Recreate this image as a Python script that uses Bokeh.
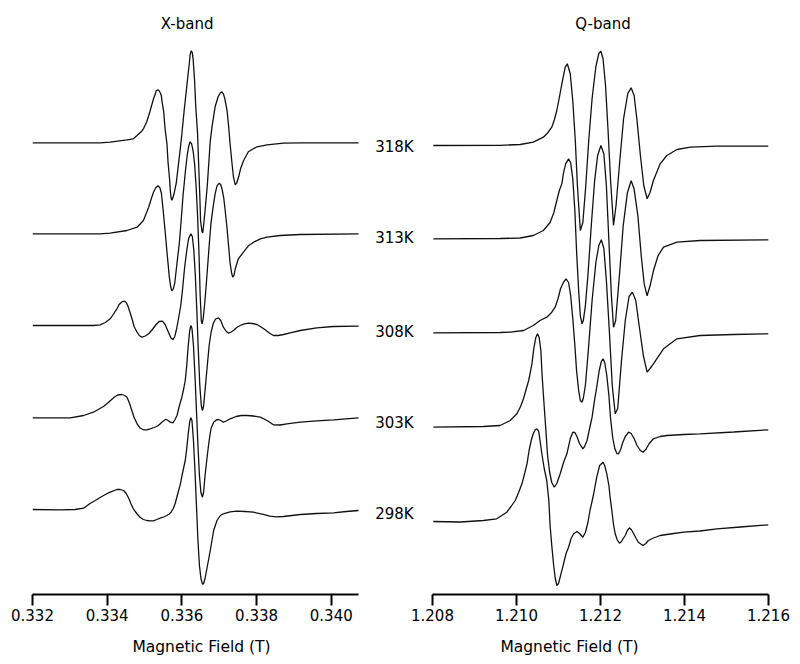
from bokeh.plotting import figure
from bokeh.models import Range1d, FixedTicker, Label, NumeralTickFormatter
from bokeh.layouts import row
from bokeh.embed import file_html
from bokeh.resources import INLINE

# ---------------- data ----------------
temps = ["318K", "313K", "308K", "303K", "298K"]

xb_ticks = [0.332, 0.334, 0.336, 0.338, 0.340]
qb_ticks = [1.208, 1.210, 1.212, 1.214, 1.216]

# vertical stacking offsets of each spectrum (arbitrary units)
xb_offsets = [451.7, 360.7, 269, 176.7, 85]
qb_offsets = [449, 355.7, 261.7, 167.3, 73]
label_levels = [448, 357, 263, 172, 81]

# X-band spectra: field (T) and derivative intensity (a.u.)
xb_318_B = [0.33200,0.33381,0.33408,0.33453,0.33470,0.33480,0.33491,0.33497,0.33506,0.33511,
            0.33515,0.33524,0.33529,0.33531,0.33536,0.33539,0.33542,0.33545,0.33547,0.33551,
            0.33555,0.33560,0.33563,0.33567,0.33569,0.33571,0.33573,0.33575,0.33579,0.33585,
            0.33590,0.33596,0.33600,0.33606,0.33613,0.33617,0.33620,0.33622,0.33625,0.33628,
            0.33630,0.33634,0.33637,0.33642,0.33645,0.33648,0.33650,0.33654,0.33656,0.33658,
            0.33662,0.33668,0.33676,0.33681,0.33689,0.33697,0.33703,0.33707,0.33711,0.33715,
            0.33721,0.33725,0.33729,0.33734,0.33738,0.33743,0.33747,0.33752,0.33757,0.33765,
            0.33778,0.33801,0.33828,0.33872,0.33917,0.34073]
xb_318_I = [0,0,0.6,3,4,7.3,11,14,21,27,
            32,44,49,52,53,52,50,47,41,32,
            14,-1,-20,-36,-48,-55,-57.5,-56,-51,-40,
            -24,-5,9,32,56,70,80,88,92,90,
            84,62,37,9,-23,-53,-78,-89,-90,-83,
            -68,-43,2,17,36,46,50,51,49,44,
            32,17,-1,-20,-34,-42,-40,-34,-26,-18,
            -9,-4,-2,-0.4,0,0]

xb_313_B = [0.33200,0.33381,0.33408,0.33453,0.33480,0.33497,0.33511,0.33518,0.33524,0.33530,
            0.33536,0.33541,0.33545,0.33550,0.33555,0.33561,0.33566,0.33570,0.33573,0.33577,
            0.33581,0.33587,0.33593,0.33598,0.33603,0.33609,0.33614,0.33618,0.33622,0.33626,
            0.33630,0.33634,0.33638,0.33642,0.33646,0.33649,0.33652,0.33654,0.33657,0.33661,
            0.33665,0.33673,0.33678,0.33684,0.33689,0.33694,0.33700,0.33704,0.33708,0.33712,
            0.33716,0.33721,0.33725,0.33729,0.33733,0.33736,0.33739,0.33743,0.33751,0.33765,
            0.33778,0.33792,0.33810,0.33828,0.33863,0.33917,0.34073]
xb_313_I = [0,0,0.6,3.3,6.6,13.3,26.6,35,41.6,46,
            48,46,41,23,3,-22,-42,-53,-57,-55,
            -49,-29,-10,13,38,61,78,87,92,90,
            83,70,48,18,-22,-62,-87,-90,-85,-70,
            -52,-12,11,28,40,48,50.6,49,44,36,
            23,5,-12,-29,-39,-43.4,-42,-35,-25,-18.4,
            -12,-8.4,-5,-3.4,-1.7,-0.7,0]

xb_308_B = [0.33200,0.33363,0.33381,0.33395,0.33408,0.33417,0.33426,0.33432,0.33439,0.33446,
            0.33451,0.33456,0.33462,0.33467,0.33472,0.33480,0.33486,0.33493,0.33502,0.33511,
            0.33521,0.33531,0.33539,0.33548,0.33555,0.33564,0.33570,0.33576,0.33581,0.33586,
            0.33591,0.33597,0.33602,0.33607,0.33613,0.33618,0.33624,0.33628,0.33632,0.33636,
            0.33640,0.33644,0.33648,0.33652,0.33655,0.33658,0.33662,0.33668,0.33673,0.33678,
            0.33684,0.33690,0.33698,0.33704,0.33711,0.33719,0.33725,0.33732,0.33738,0.33747,
            0.33756,0.33767,0.33778,0.33789,0.33801,0.33812,0.33823,0.33834,0.33845,0.33858,
            0.33872,0.33890,0.33917,0.33961,0.34006,0.34073]
xb_308_I = [0,0,0.7,3,6.7,11.5,16.7,21,23.5,24.3,
            23,19,12,6,-1,-6.7,-10,-11.7,-10.5,-8.3,
            -4,1,4,4.3,1,-6.7,-12,-14.3,-11,-3,
            7,20,37,57,75,87,91.7,89,75,50,
            15,-25,-60,-80,-85,-81,-65,-40,-20,-7,
            2,6.5,7.7,5,-1.7,-6,-7.7,-6.5,-5,-2,
            0,1.7,2.3,2,1,-1.5,-4.3,-7.5,-10,-10,
            -9,-7.3,-5,-2.3,-1,-0.7]

xb_303_B = [0.33200,0.33301,0.33337,0.33363,0.33390,0.33403,0.33417,0.33428,0.33439,0.33447,
            0.33453,0.33459,0.33466,0.33472,0.33480,0.33488,0.33497,0.33506,0.33515,0.33526,
            0.33537,0.33547,0.33557,0.33563,0.33569,0.33576,0.33581,0.33587,0.33592,0.33600,
            0.33605,0.33609,0.33613,0.33617,0.33621,0.33624,0.33627,0.33631,0.33635,0.33639,
            0.33643,0.33647,0.33651,0.33655,0.33658,0.33662,0.33668,0.33673,0.33678,0.33685,
            0.33692,0.33698,0.33704,0.33711,0.33719,0.33729,0.33745,0.33759,0.33774,0.33791,
            0.33810,0.33828,0.33845,0.33863,0.33881,0.33917,0.33961,0.34006,0.34073]
xb_303_I = [0,0,2.3,5.6,11.3,15.3,20,22.8,23.3,22.3,
            20.6,15.3,7.3,0.3,-6,-10.2,-12,-12,-11,-9.7,
            -7.7,-4.2,-1.4,-2.7,-4.4,-5,-2.2,2.3,10.3,20.6,
            29.3,37.3,52.3,72.3,87.3,92.3,89.3,72.3,42.3,7.3,
            -27.7,-57.7,-74.7,-79.4,-74.7,-57.7,-37.7,-22.7,-10.7,-4.4,
            -2.2,-1.7,-2.7,-4.4,-3.2,-1,1.3,2.3,2.3,1.8,
            0.6,-2.7,-7,-7.2,-6,-4.4,-3,-2,0]

xb_298_B = [0.33200,0.33274,0.33314,0.33337,0.33354,0.33368,0.33381,0.33395,0.33408,0.33426,
            0.33435,0.33444,0.33451,0.33458,0.33464,0.33470,0.33480,0.33488,0.33497,0.33506,
            0.33515,0.33524,0.33533,0.33542,0.33551,0.33560,0.33566,0.33571,0.33577,0.33582,
            0.33587,0.33596,0.33602,0.33609,0.33613,0.33617,0.33621,0.33624,0.33627,0.33631,
            0.33635,0.33639,0.33643,0.33647,0.33651,0.33655,0.33658,0.33662,0.33668,0.33676,
            0.33685,0.33694,0.33703,0.33711,0.33729,0.33747,0.33769,0.33792,0.33815,0.33836,
            0.33852,0.33872,0.33917,0.33961,0.34006,0.34040,0.34073]
xb_298_I = [0,-0.3,0,1.3,6,9,12,15,17.3,20,
            20,19,16,11,5.5,0.7,-4.5,-7.7,-10,-11,
            -11.3,-11.3,-10,-8.7,-7.5,-6,-4.5,-2.7,1,6,
            13,25.7,37,49,61,76,88,91.7,89,69,
            39,4,-31,-56,-69,-74.5,-74.3,-69,-57,-41,
            -21,-11,-6,-4.3,-2.3,-1.7,-2,-2.7,-4.7,-6.7,
            -7.3,-7,-5,-4,-3.3,-2,-1]

# Q-band spectra
qb_318_B = [1.20802,1.20961,1.21009,1.21040,1.21064,1.21074,1.21084,1.21090,1.21096,1.21102,
            1.21108,1.21116,1.21121,1.21128,1.21134,1.21140,1.21145,1.21152,1.21158,1.21165,
            1.21172,1.21180,1.21189,1.21196,1.21201,1.21206,1.21212,1.21218,1.21224,1.21231,
            1.21237,1.21246,1.21255,1.21265,1.21273,1.21280,1.21287,1.21295,1.21303,1.21311,
            1.21318,1.21326,1.21342,1.21358,1.21382,1.21414,1.21477,1.21600]
qb_318_I = [0,0.2,1,3.3,8.3,12.5,18.3,25.5,35,48,
            61.7,78.3,81.7,71.7,45,5,-40,-85,-77,-40,
            5,47,79,92,94.3,87,60,15,-35,-80,
            -60,-15,27,52,57.7,50,25,-10,-40,-53.3,
            -47,-35,-18.3,-10,-4,-1.7,-0.7,-0.7]

qb_313_B = [1.20802,1.20961,1.21009,1.21040,1.21064,1.21080,1.21089,1.21096,1.21102,1.21108,
            1.21112,1.21117,1.21124,1.21129,1.21134,1.21139,1.21143,1.21148,1.21152,1.21156,
            1.21159,1.21164,1.21170,1.21178,1.21186,1.21193,1.21201,1.21208,1.21214,1.21220,
            1.21226,1.21231,1.21236,1.21246,1.21254,1.21264,1.21273,1.21280,1.21289,1.21297,
            1.21304,1.21311,1.21318,1.21326,1.21337,1.21350,1.21382,1.21437,1.21600]
qb_313_I = [0,0.3,0.8,3.3,8.3,16.3,26.3,38.3,48.3,55,
            66,75,80,76,60,28,-12,-52,-77,-85,
            -82,-67,-37,13,58,83,93.3,85,53,-2,
            -57,-88.4,-82,-32,13,46,58,50,23,-17,
            -45,-57,-47,-32,-17,-8.4,-3.4,-1.7,-1]

qb_308_B = [1.20802,1.20961,1.20985,1.21017,1.21040,1.21056,1.21072,1.21084,1.21092,1.21099,
            1.21105,1.21112,1.21118,1.21124,1.21129,1.21134,1.21139,1.21143,1.21148,1.21152,
            1.21156,1.21159,1.21164,1.21171,1.21180,1.21189,1.21196,1.21202,1.21208,1.21214,
            1.21221,1.21228,1.21235,1.21241,1.21250,1.21259,1.21268,1.21276,1.21284,1.21292,
            1.21302,1.21311,1.21318,1.21326,1.21350,1.21382,1.21437,1.21517,1.21600]
qb_308_I = [0,0.3,0.6,2.3,7.3,12.3,15.6,20.6,25.6,34.3,
            44.3,50.6,54,50.3,37.3,14.3,-12.7,-37.7,-57.7,-67.7,
            -69.4,-65.7,-52.7,-17.7,32.3,70.3,87.3,93,84.3,52.3,
            2.3,-52.7,-81,-75.7,-27.7,12.3,36.3,40.6,32.3,7.3,
            -22.7,-39.4,-35.7,-31,-16,-6,-2.7,-1.7,-1]

qb_303_B = [1.20802,1.20921,1.20961,1.20985,1.21001,1.21010,1.21017,1.21023,1.21029,1.21033,
            1.21037,1.21041,1.21046,1.21050,1.21054,1.21058,1.21061,1.21065,1.21070,1.21074,
            1.21079,1.21084,1.21090,1.21096,1.21104,1.21112,1.21120,1.21128,1.21134,1.21139,
            1.21144,1.21150,1.21158,1.21162,1.21168,1.21173,1.21180,1.21185,1.21191,1.21197,
            1.21202,1.21206,1.21210,1.21215,1.21220,1.21224,1.21229,1.21234,1.21239,1.21243,
            1.21248,1.21253,1.21259,1.21267,1.21273,1.21280,1.21287,1.21295,1.21301,1.21308,
            1.21316,1.21326,1.21342,1.21358,1.21398,1.21437,1.21517,1.21600]
qb_303_I = [0,0.7,1.7,6.7,13.4,21,29,38,46.7,55,
            64,78,89.7,93.4,89.7,76.7,51.7,26.7,-3.3,-28.3,
            -45.3,-55.3,-60,-56.3,-46.6,-35.3,-26.6,-11.6,-5,-5.3,
            -9.3,-16.3,-21.6,-19.3,-13.3,-3.3,10,24.7,40,56.7,
            65.7,68.4,64.7,51.7,31.7,8.7,-10.3,-21.3,-26.3,-26.6,
            -22.3,-15.3,-9.3,-5,-6.3,-11.3,-18.3,-23.3,-25,-22.3,
            -16.3,-11.6,-9.3,-8.3,-7.3,-6.6,-4.8,-2.6]

qb_298_B = [1.20802,1.20866,1.20921,1.20953,1.20977,1.20987,1.20997,1.21005,1.21013,1.21020,
            1.21025,1.21030,1.21035,1.21040,1.21045,1.21049,1.21053,1.21056,1.21061,1.21066,
            1.21072,1.21077,1.21080,1.21084,1.21088,1.21092,1.21096,1.21100,1.21105,1.21112,
            1.21118,1.21124,1.21130,1.21136,1.21144,1.21150,1.21158,1.21164,1.21170,1.21175,
            1.21183,1.21191,1.21198,1.21206,1.21210,1.21215,1.21220,1.21223,1.21227,1.21231,
            1.21235,1.21240,1.21245,1.21250,1.21254,1.21259,1.21264,1.21269,1.21274,1.21279,
            1.21285,1.21290,1.21301,1.21308,1.21314,1.21326,1.21342,1.21366,1.21398,1.21437,
            1.21477,1.21533,1.21600]
qb_298_I = [0,-0.5,1,2.7,9.3,15,21,29,37.7,49,
            57.7,71,81,88,92,92.7,90,81,66,53,
            41,21,-4,-24,-42,-56,-64,-62,-54,-42.3,
            -32,-25.7,-17,-12.3,-10,-12,-15.7,-11,-1,11,
            26,44.3,56,59.3,56,47.7,36,24,11,-3,
            -12.3,-18.5,-21.7,-20,-17,-14,-9,-6.3,-8.5,-12.3,
            -17,-20.7,-24,-22,-19,-16.5,-14,-12.5,-10.7,-9.5,
            -7.3,-5.5,-3.3]

xb_fields = [xb_318_B, xb_313_B, xb_308_B, xb_303_B, xb_298_B]
xb_ints = [xb_318_I, xb_313_I, xb_308_I, xb_303_I, xb_298_I]
qb_fields = [qb_318_B, qb_313_B, qb_308_B, qb_303_B, qb_298_B]
qb_ints = [qb_318_I, qb_313_I, qb_308_I, qb_303_I, qb_298_I]

# ---------------- styling ----------------
FONT = "DejaVu Sans"
H = 658
LINE = "#111111"
LW = 1.3


def style(p, ticks, bounds):
    p.outline_line_color = None
    p.xgrid.visible = False
    p.ygrid.visible = False
    ax = p.xaxis[0]
    ax.ticker = FixedTicker(ticks=ticks)
    ax.formatter = NumeralTickFormatter(format="0.000")
    ax.bounds = bounds
    ax.axis_line_width = 2
    ax.axis_line_color = "black"
    ax.major_tick_line_width = 2
    ax.major_tick_line_color = "black"
    ax.major_tick_out = 11
    ax.major_tick_in = 0
    ax.minor_tick_line_color = None
    ax.major_label_text_font = FONT
    ax.major_label_text_font_size = "15px"
    ax.major_label_text_color = "black"
    ax.major_label_standoff = 3
    ax.axis_label = "Magnetic Field (T)"
    ax.axis_label_text_font = FONT
    ax.axis_label_text_font_size = "15.5px"
    ax.axis_label_text_font_style = "normal"
    ax.axis_label_text_color = "black"
    ax.axis_label_standoff = 14


# left panel: frame spans page x 32..370
p1 = figure(width=370, height=H, x_range=Range1d(0.332, 0.341050), y_range=Range1d(0, 586),
            output_backend="svg", toolbar_location=None, y_axis_location=None,
            min_border_left=32, min_border_right=0, min_border_top=8, min_border_bottom=64)
style(p1, xb_ticks, (xb_ticks[0], 0.34073))
for B, I, off in zip(xb_fields, xb_ints, xb_offsets):
    p1.line(B, [v + off for v in I], line_color=LINE, line_width=LW)
p1.add_layout(Label(x=0.33614, y=571, text="X-band", text_font=FONT, text_font_size="15px",
                    text_align="center", text_baseline="middle", text_color="black"))

# right panel: frame spans page x 370..768, field axis starts at 1.208
p2 = figure(width=420, height=H, x_range=Range1d(1.206524, qb_ticks[-1]), y_range=Range1d(0, 586),
            output_backend="svg", toolbar_location=None, y_axis_location=None,
            min_border_left=0, min_border_right=22, min_border_top=8, min_border_bottom=64)
style(p2, qb_ticks, (qb_ticks[0], qb_ticks[-1]))
for B, I, off in zip(qb_fields, qb_ints, qb_offsets):
    p2.line(B, [v + off for v in I], line_color=LINE, line_width=LW)
p2.add_layout(Label(x=1.21206, y=571, text="Q-band", text_font=FONT, text_font_size="15px",
                    text_align="center", text_baseline="middle", text_color="black"))
for t, yl in zip(temps, label_levels):
    p2.add_layout(Label(x=1.206636, y=yl, text=t, text_font=FONT, text_font_size="15px",
                        text_align="left", text_baseline="middle", text_color="black"))

layout = row(p1, p2)
open("out.html", "w").write(file_html(layout, INLINE))
